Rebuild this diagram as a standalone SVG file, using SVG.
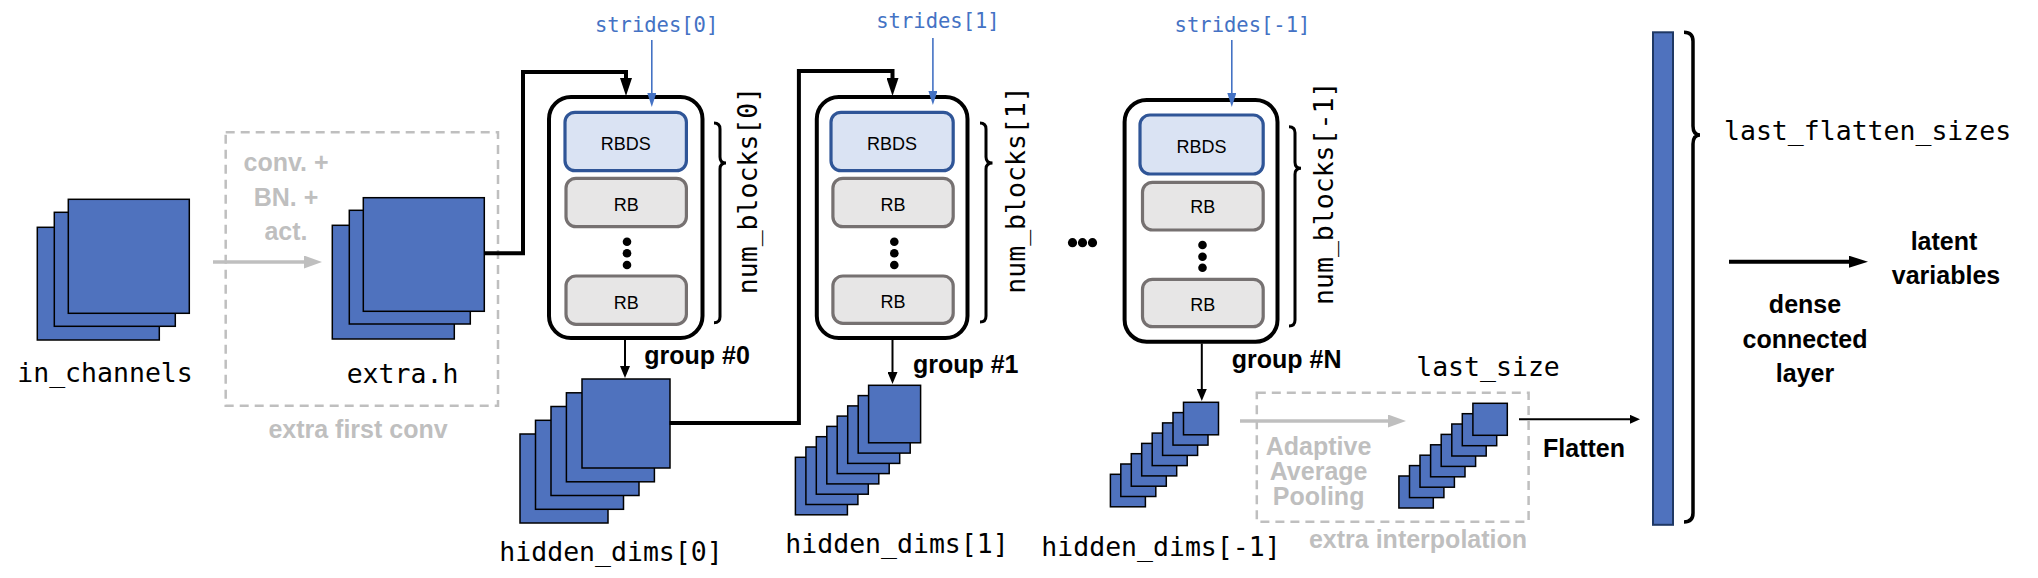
<svg xmlns="http://www.w3.org/2000/svg" width="2038" height="578" viewBox="0 0 2038 578">
<style>
.sq{fill:#4f72be;stroke:#000;stroke-width:1.5}
.bar{fill:#4f72be;stroke:#1f3864;stroke-width:2}
.mono{font-family:"DejaVu Sans Mono","Liberation Mono",monospace;font-size:26.5px;fill:#000}
.stride{font-family:"DejaVu Sans Mono","Liberation Mono",monospace;font-size:20.5px;fill:#4472c4}
.bold{font-family:"Liberation Sans",Arial,sans-serif;font-weight:bold;font-size:25px;fill:#000}
.gray{fill:#bfbfbf}
.blk{font-family:"Liberation Sans",Arial,sans-serif;font-size:18px;fill:#000}
.gbox{fill:#fff;stroke:#000;stroke-width:4}
.rbds{fill:#dae3f3;stroke:#2f5597;stroke-width:3.2}
.rb{fill:#e7e6e6;stroke:#767171;stroke-width:3.2}
.brace{fill:none;stroke:#000;stroke-width:3}
.dash{fill:none;stroke:#bfbfbf;stroke-width:2.5;stroke-dasharray:9 6}
.thick{fill:none;stroke:#000;stroke-width:4}
.thin{fill:none;stroke:#000;stroke-width:2}
.blue{fill:none;stroke:#4472c4;stroke-width:1.6}
.garrow{fill:none;stroke:#bfbfbf;stroke-width:3.5}
</style>
<defs>
<marker id="mThick" markerUnits="userSpaceOnUse" markerWidth="18" markerHeight="12" refX="1" refY="6" orient="auto"><path d="M0,0 L18,6 L0,12 z" fill="#000"/></marker>
<marker id="mThin" markerUnits="userSpaceOnUse" markerWidth="12" markerHeight="10" refX="1" refY="5" orient="auto"><path d="M0,0 L12,5 L0,10 z" fill="#000"/></marker>
<marker id="mBlue" markerUnits="userSpaceOnUse" markerWidth="14" markerHeight="9" refX="1" refY="4.5" orient="auto"><path d="M0,0 L14,4.5 L0,9 z" fill="#4472c4"/></marker>
<marker id="mGray" markerUnits="userSpaceOnUse" markerWidth="18" markerHeight="13" refX="1" refY="6.5" orient="auto"><path d="M0,0 L18,6.5 L0,13 z" fill="#bfbfbf"/></marker>
<marker id="mSmall" markerUnits="userSpaceOnUse" markerWidth="10" markerHeight="9" refX="1" refY="4.5" orient="auto"><path d="M0,0 L10,4.5 L0,9 z" fill="#000"/></marker>
<marker id="mDense" markerUnits="userSpaceOnUse" markerWidth="19" markerHeight="12" refX="1" refY="6" orient="auto"><path d="M0,0 L19,6 L0,12 z" fill="#000"/></marker>
</defs>

<g id="extra-first-conv">
<rect class="dash" x="225.7" y="132.3" width="272.3" height="273.4"/>
<text class="bold gray" text-anchor="middle" x="286" y="170.7">conv. +</text>
<text class="bold gray" text-anchor="middle" x="286" y="206">BN. +</text>
<text class="bold gray" text-anchor="middle" x="286" y="240">act.</text>
<text class="bold gray" text-anchor="middle" x="358" y="438">extra first conv</text>
</g>

<g id="extra-interpolation">
<rect class="dash" x="1256.8" y="392.7" width="271.8" height="129"/>
<text class="bold gray" text-anchor="middle" x="1318.6" y="455">Adaptive</text>
<text class="bold gray" text-anchor="middle" x="1318.6" y="480">Average</text>
<text class="bold gray" text-anchor="middle" x="1318.6" y="505">Pooling</text>
<text class="bold gray" text-anchor="middle" x="1418" y="548">extra interpolation</text>
</g>

<g id="in-channels">
<rect class="sq" x="37.3" y="227.3" width="122" height="112.7"/>
<rect class="sq" x="54.3" y="212.3" width="121" height="114"/>
<rect class="sq" x="68.3" y="199.3" width="121" height="114"/>
<text class="mono" text-anchor="middle" x="105" y="381.7">in_channels</text>
</g>

<g id="extra-h">
<rect class="sq" x="332.3" y="225.3" width="122" height="113.7"/>
<rect class="sq" x="349.3" y="210.3" width="121" height="113.7"/>
<rect class="sq" x="363.3" y="197.7" width="121" height="113.6"/>
<text class="mono" text-anchor="middle" x="402.5" y="383">extra.h</text>
</g>

<g id="group0">
<text class="stride" text-anchor="middle" x="656.6" y="31.7">strides[0]</text>
<rect class="gbox" x="549" y="97" width="153.5" height="241" rx="22"/>
<rect class="rbds" x="565" y="112.3" width="121.4" height="58.4" rx="10"/>
<text class="blk" text-anchor="middle" x="625.7" y="150">RBDS</text>
<rect class="rb" x="566" y="178.3" width="120.4" height="48.4" rx="10"/>
<text class="blk" text-anchor="middle" x="626.2" y="210.7">RB</text>
<circle cx="627" cy="241.7" r="4.3"/>
<circle cx="627" cy="253.3" r="4.3"/>
<circle cx="627" cy="265" r="4.3"/>
<rect class="rb" x="566" y="276" width="120.4" height="48.3" rx="10"/>
<text class="blk" text-anchor="middle" x="626.2" y="309">RB</text>
<path class="brace" d="M714,123 Q720,123 720,129 L720,157 Q720,163 726,163 Q720,163 720,169 L720,316.7 Q720,322.7 714,322.7"/>
<text class="mono" text-anchor="middle" transform="translate(757,190.5) rotate(-90)">num_blocks[0]</text>
<text class="bold" x="644.3" y="364">group #0</text>
</g>

<g id="group1">
<text class="stride" text-anchor="middle" x="938" y="28.3">strides[1]</text>
<rect class="gbox" x="816.8" y="97" width="150.7" height="241" rx="22"/>
<rect class="rbds" x="831" y="112.3" width="122.2" height="58.4" rx="10"/>
<text class="blk" text-anchor="middle" x="892.1" y="150">RBDS</text>
<rect class="rb" x="832.9" y="178.3" width="120.3" height="48.4" rx="10"/>
<text class="blk" text-anchor="middle" x="893" y="210.7">RB</text>
<circle cx="894.3" cy="241.7" r="4.3"/>
<circle cx="894.3" cy="253.3" r="4.3"/>
<circle cx="894.3" cy="265" r="4.3"/>
<rect class="rb" x="832.9" y="276" width="120.3" height="47.3" rx="10"/>
<text class="blk" text-anchor="middle" x="893" y="308.3">RB</text>
<path class="brace" d="M980,123 Q986,123 986,129 L986,157 Q986,163 992.5,163 Q986,163 986,169 L986,316 Q986,322 980,322"/>
<text class="mono" text-anchor="middle" transform="translate(1024.6,190) rotate(-90)">num_blocks[1]</text>
<text class="bold" x="912.9" y="373">group #1</text>
</g>

<g id="ellipsis">
<circle cx="1072.5" cy="242.7" r="4.6"/>
<circle cx="1082.5" cy="242.7" r="4.6"/>
<circle cx="1092.5" cy="242.7" r="4.6"/>
</g>

<g id="groupN">
<text class="stride" text-anchor="middle" x="1242.5" y="31.7">strides[-1]</text>
<rect class="gbox" x="1124.6" y="100" width="152.9" height="241.7" rx="22"/>
<rect class="rbds" x="1140" y="115" width="123.2" height="59" rx="10"/>
<text class="blk" text-anchor="middle" x="1201.6" y="153.3">RBDS</text>
<rect class="rb" x="1142.5" y="182.3" width="120.7" height="47.7" rx="10"/>
<text class="blk" text-anchor="middle" x="1202.8" y="213.3">RB</text>
<circle cx="1202.5" cy="245" r="4.3"/>
<circle cx="1202.5" cy="256.7" r="4.3"/>
<circle cx="1202.5" cy="267.7" r="4.3"/>
<rect class="rb" x="1142.5" y="279.3" width="120.7" height="47.4" rx="10"/>
<text class="blk" text-anchor="middle" x="1202.8" y="310.7">RB</text>
<path class="brace" d="M1289,126.7 Q1295,126.7 1295,132.7 L1295,162.3 Q1295,168.3 1301,168.3 Q1295,168.3 1295,174.3 L1295,320 Q1295,326 1289,326"/>
<text class="mono" text-anchor="middle" transform="translate(1333,193.3) rotate(-90)">num_blocks[-1]</text>
<text class="bold" x="1231.8" y="368.3">group #N</text>
</g>

<g id="hidden-dims-0">
<rect class="sq" x="520" y="434" width="88" height="89"/>
<rect class="sq" x="535.5" y="420.3" width="88" height="89"/>
<rect class="sq" x="551" y="406.5" width="88" height="89"/>
<rect class="sq" x="566.4" y="392.8" width="88" height="89"/>
<rect class="sq" x="582" y="379" width="88" height="89"/>
<text class="mono" text-anchor="middle" x="611" y="560.5">hidden_dims[0]</text>
</g>

<g id="hidden-dims-1">
<rect class="sq" x="795.4" y="457.3" width="52" height="57.5"/>
<rect class="sq" x="805.9" y="447" width="52" height="57.5"/>
<rect class="sq" x="816.3" y="436.7" width="52" height="57.5"/>
<rect class="sq" x="826.8" y="426.4" width="52" height="57.5"/>
<rect class="sq" x="837.2" y="416.1" width="52" height="57.5"/>
<rect class="sq" x="847.7" y="405.9" width="52" height="57.5"/>
<rect class="sq" x="858.2" y="395.6" width="52" height="57.5"/>
<rect class="sq" x="868.6" y="385.3" width="52" height="57.5"/>
<text class="mono" text-anchor="middle" x="897" y="553">hidden_dims[1]</text>
</g>

<g id="hidden-dims-last">
<rect class="sq" x="1110.4" y="474.3" width="35" height="32.5"/>
<rect class="sq" x="1120.8" y="464" width="35" height="32.5"/>
<rect class="sq" x="1131.3" y="453.7" width="35" height="32.5"/>
<rect class="sq" x="1141.7" y="443.4" width="35" height="32.5"/>
<rect class="sq" x="1152.2" y="433.1" width="35" height="32.5"/>
<rect class="sq" x="1162.6" y="422.9" width="35" height="32.5"/>
<rect class="sq" x="1173" y="412.6" width="35" height="32.5"/>
<rect class="sq" x="1183.5" y="402.3" width="35" height="32.5"/>
<text class="mono" text-anchor="middle" x="1161" y="556">hidden_dims[-1]</text>
</g>

<g id="last-size">
<rect class="sq" x="1398.9" y="476" width="34.4" height="32"/>
<rect class="sq" x="1409.5" y="465.6" width="34.4" height="32"/>
<rect class="sq" x="1420" y="455.2" width="34.4" height="32"/>
<rect class="sq" x="1430.6" y="444.8" width="34.4" height="32"/>
<rect class="sq" x="1441.2" y="434.4" width="34.4" height="32"/>
<rect class="sq" x="1451.8" y="424" width="34.4" height="32"/>
<rect class="sq" x="1462.3" y="413.7" width="34.4" height="32"/>
<rect class="sq" x="1472.9" y="403.3" width="34.4" height="32"/>
<text class="mono" text-anchor="middle" x="1488" y="376">last_size</text>
</g>

<g id="flatten-vector">
<rect class="bar" x="1653" y="32.3" width="20" height="492.5"/>
<path class="brace" style="stroke-width:3.5" d="M1684,32.3 Q1693,32.3 1693,41.3 L1693,126 Q1693,135 1700,135 Q1693,135 1693,144 L1693,513 Q1693,522 1684,522"/>
<text class="mono" x="1724" y="140">last_flatten_sizes</text>
</g>

<g id="latent">
<text class="bold" text-anchor="middle" x="1944" y="250">latent</text>
<text class="bold" text-anchor="middle" x="1946" y="284">variables</text>
</g>

<g id="connectors">
<path class="thick" d="M484.3,253.3 H523 V72 H626 V79" marker-end="url(#mThick)"/>
<path class="thick" d="M669.5,423 H798.9 V71 H892.5 V79" marker-end="url(#mThick)"/>
<path class="blue" d="M651.8,40 V94" marker-end="url(#mBlue)"/>
<path class="blue" d="M932.9,38 V92" marker-end="url(#mBlue)"/>
<path class="blue" d="M1231.8,40 V94" marker-end="url(#mBlue)"/>
<path class="thin" d="M625,340 V367" marker-end="url(#mThin)"/>
<path class="thin" d="M892.5,340 V373" marker-end="url(#mThin)"/>
<path class="thin" d="M1201.8,343.5 V390" marker-end="url(#mThin)"/>
<path class="garrow" d="M213,262 H305" marker-end="url(#mGray)"/>
<path class="garrow" d="M1240,421 H1389" marker-end="url(#mGray)"/>
<path class="thin" d="M1519,419.3 H1631" marker-end="url(#mSmall)"/>
<text class="bold" text-anchor="middle" x="1584" y="457">Flatten</text>
<path class="thick" d="M1729,261.7 H1850" marker-end="url(#mDense)"/>
<text class="bold" text-anchor="middle" x="1805" y="313">dense</text>
<text class="bold" text-anchor="middle" x="1805" y="348">connected</text>
<text class="bold" text-anchor="middle" x="1805" y="382">layer</text>
</g>
</svg>
